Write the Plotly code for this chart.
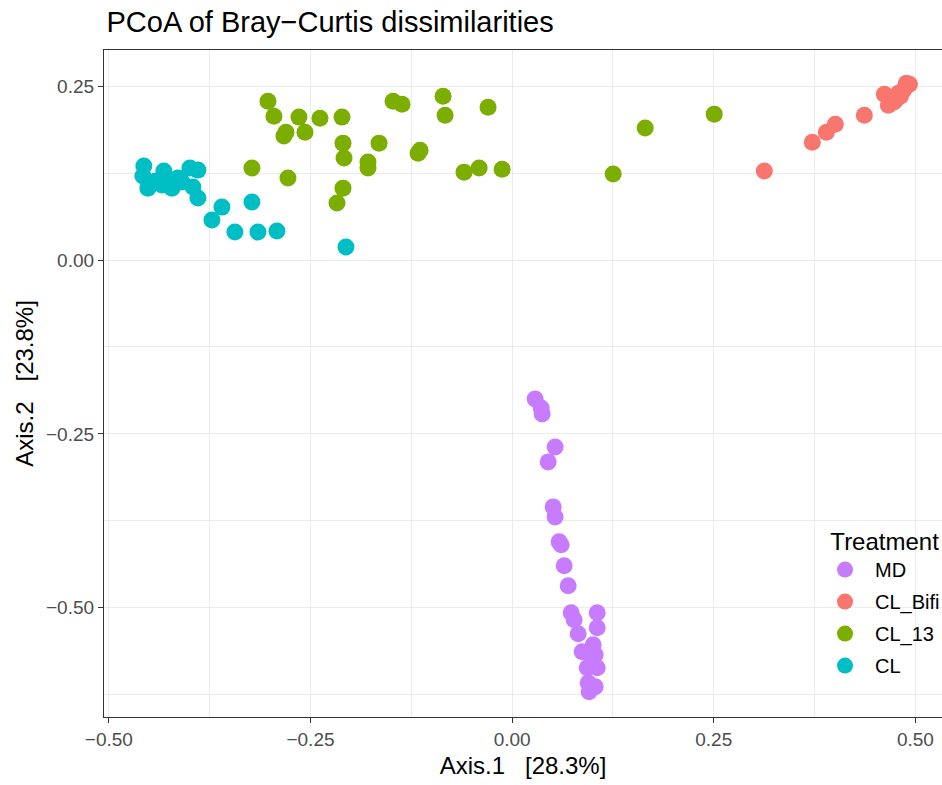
import plotly.graph_objects as go

# ---- data ----
md_x = [0.0285, 0.0360, 0.0372, 0.0533, 0.0447, 0.0509, 0.0533, 0.0583, 0.0608, 0.0645,
        0.0695, 0.0732, 0.0769, 0.0819, 0.1055, 0.1055, 0.0868, 0.1005, 0.1030, 0.0931,
        0.1055, 0.0943, 0.1030, 0.0955, 0.0993]
md_y = [-0.1997, -0.2126, -0.2213, -0.2687, -0.2902, -0.3549, -0.3693, -0.4052, -0.4095, -0.4397,
        -0.4684, -0.5072, -0.5172, -0.5374, -0.5072, -0.5287, -0.5632, -0.5532, -0.5675, -0.5862,
        -0.5862, -0.6078, -0.6135, -0.6207, -0.5747]

bifi_x = [0.3127, 0.3722, 0.3896, 0.4007, 0.4367, 0.4615, 0.4677, 0.4752, 0.4814, 0.4851,
          0.4888, 0.4926, 0.4789, 0.4727, 0.4876, 0.4665]
bifi_y = [0.1279, 0.1695, 0.1839, 0.1954, 0.2083, 0.2385, 0.2256, 0.2299, 0.2356, 0.2443,
          0.2543, 0.2529, 0.2399, 0.2270, 0.2486, 0.2227]

cl13_x = [-0.3027, -0.2953, -0.2643, -0.2382, -0.2109, -0.2804, -0.2829, -0.2568, -0.2097, -0.2084,
          -0.1650, -0.1787, -0.1787, -0.1476, -0.1365, -0.3226, -0.2779, -0.2097, -0.2171, -0.1166,
          -0.1141, -0.0856, -0.0831, -0.0298, -0.0596, -0.0409, -0.0124, 0.1253, 0.1650, 0.2506]
cl13_y = [0.2284, 0.2069, 0.2055, 0.2040, 0.2055, 0.1839, 0.1782, 0.1839, 0.1681, 0.1466,
          0.1681, 0.1408, 0.1322, 0.2284, 0.2241, 0.1322, 0.1178, 0.1034, 0.0819, 0.1537,
          0.1580, 0.2356, 0.2083, 0.2198, 0.1264, 0.1322, 0.1307, 0.1236, 0.1897, 0.2098]

cl_x = [-0.4566, -0.4578, -0.4516, -0.4318, -0.4417, -0.4342, -0.4218, -0.4144, -0.3995, -0.3896,
        -0.3958, -0.3896, -0.3598, -0.3722, -0.3437, -0.3151, -0.2916, -0.3226, -0.2060, -0.4243,
        -0.4094]
cl_y = [0.1351, 0.1207, 0.1034, 0.1279, 0.1135, 0.1078, 0.1034, 0.1178, 0.1322, 0.1293,
        0.1049, 0.0891, 0.0761, 0.0575, 0.0402, 0.0402, 0.0417, 0.0833, 0.0187, 0.1149,
        0.1121]

groups = ["MD", "CL_Bifi", "CL_13", "CL"]
colors = ["#C77CFF", "#F8766D", "#7CAE00", "#00BFC4"]
xs = [md_x, bifi_x, cl13_x, cl_x]
ys = [md_y, bifi_y, cl13_y, cl_y]

x_ticks = [-0.50, -0.25, 0.00, 0.25, 0.50]
y_ticks = [-0.50, -0.25, 0.00, 0.25]
x_minor = [-0.375, -0.125, 0.125, 0.375]
y_minor = [-0.625, -0.375, -0.125, 0.125]

fig = go.Figure()
for g, c, x, y in zip(groups, colors, xs, ys):
    fig.add_trace(go.Scatter(x=x, y=y, mode="markers", name=g, legendgroup=g,
                             marker=dict(color=c, size=17, line=dict(width=0))))

font_family = "Liberation Sans, Arial, sans-serif"
fig.update_layout(
    width=942, height=785,
    margin=dict(l=104, r=0, t=50, b=68, autoexpand=False),
    paper_bgcolor="white", plot_bgcolor="white",
    font=dict(family=font_family, color="black"),
    title=dict(text="PCoA of Bray\u2212Curtis dissimilarities", x=0.003, xref="paper",
               xanchor="left", y=1 - 22 / 785, yref="container", yanchor="middle",
               font=dict(size=29, color="black")),
    showlegend=True,
    legend=dict(title=dict(text="\u00a0\u00a0Treatment", font=dict(size=24)),
                font=dict(size=20), x=0.8616 - 11 / 838, xanchor="left", y=0.297, yanchor="top",
                bgcolor="rgba(0,0,0,0)", itemsizing="trace", tracegroupgap=3,
                itemwidth=50),
)
fig.update_xaxes(
    range=[-0.506, 0.533], tickvals=x_ticks, tickformat=".2f",
    showgrid=True, gridcolor="#EBEBEB", gridwidth=1.4,
    minor=dict(tickvals=x_minor, showgrid=True, gridcolor="#EBEBEB", gridwidth=0.7, ticks=""),
    zeroline=False, showline=True, linecolor="#333333", linewidth=1.2, mirror=True,
    ticks="outside", ticklen=5, tickcolor="#333333", tickwidth=1.1,
    tickfont=dict(size=19, color="#4D4D4D"),
    title=dict(text="Axis.1\u00a0\u00a0\u00a0[28.3%]", font=dict(size=24, color="black"), standoff=8),
)
fig.update_yaxes(
    range=[-0.657, 0.302], tickvals=y_ticks, tickformat=".2f",
    showgrid=True, gridcolor="#EBEBEB", gridwidth=1.4,
    minor=dict(tickvals=y_minor, showgrid=True, gridcolor="#EBEBEB", gridwidth=0.7, ticks=""),
    zeroline=False, showline=True, linecolor="#333333", linewidth=1.2, mirror=False,
    ticks="outside", ticklen=5, tickcolor="#333333", tickwidth=1.1,
    tickfont=dict(size=19, color="#4D4D4D"),
    title=dict(text="Axis.2\u00a0\u00a0\u00a0[23.8%]", font=dict(size=24, color="black"), standoff=5),
)

fig.write_html("out.html", config={"displayModeBar": False})
